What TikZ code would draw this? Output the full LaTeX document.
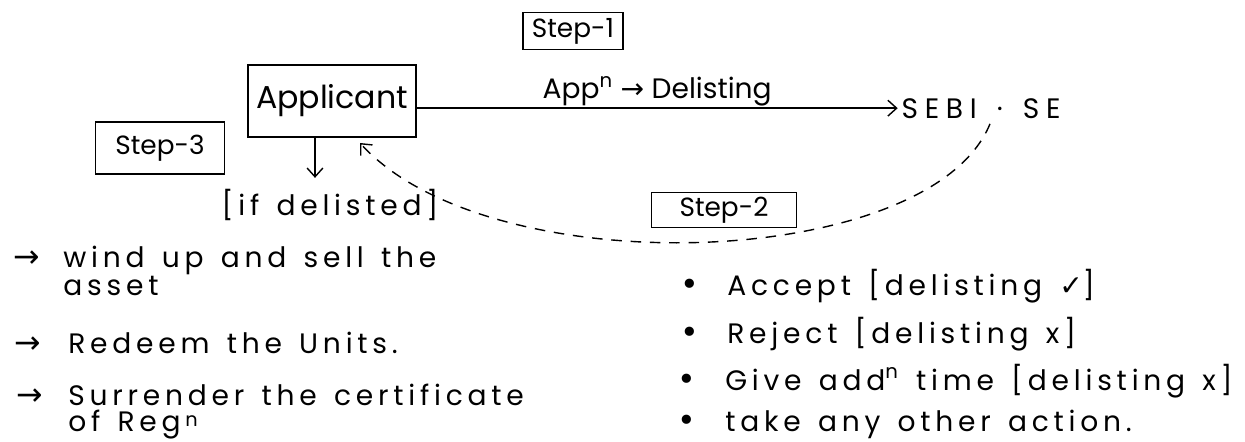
\documentclass[tikz,border=0pt]{standalone}
\usepackage{fontspec}
\usetikzlibrary{arrows.meta}
\setmainfont{Poppins}
\newfontfamily\listfont{Poppins}[LetterSpace=17, WordSpace=1.4]
\newfontfamily\symfont{DejaVu Sans}

\begin{document}
\begin{tikzpicture}[
	>={Straight Barb[length=5pt, width=9pt]},
	stepbox/.style={draw, thick, inner sep=0pt, font=\fontsize{15}{15}\selectfont},
	txt/.style={inner sep=0pt, font=\listfont\fontsize{16}{16}\selectfont},
	sym/.style={inner sep=0pt, font=\symfont\fontsize{18}{18}\selectfont}
]
\useasboundingbox (0,0) rectangle (24.9,8.82);

% step 1
\node[stepbox, minimum width=2cm, minimum height=0.74cm] (stepone) at (11.46,8.2) {Step-1};
\node[draw, thick, inner sep=0pt, minimum width=3.36cm, minimum height=1.44cm, font=\fontsize{18}{18}\selectfont] (app) at (6.64,6.80) {Applicant};
\node[txt, anchor=base] (sebi) at (19.62,6.46) {\addfontfeature{LetterSpace=24}SEBI · SE};
	\draw[thick, ->] (app.east |- sebi.west) -- ([xshift=-2pt]sebi.west) node[midway, above=1pt, inner sep=0pt, font=\fontsize{16}{16}\selectfont] {App\textsuperscript{n} {\symfont →} Delisting};

% step 2
\node[stepbox, minimum width=2.9cm, minimum height=0.7cm] (steptwo) at (14.48,4.62) {Step-2};
\draw[thick, ->, dash pattern=on 6pt off 5pt] ([xshift=0.18cm, yshift=-3pt]sebi.south) .. controls (18.6,3.4) and (9.8,3.1) .. ([xshift=0.56cm, yshift=-3pt]app.south);

\node[sym, anchor=base] (b1) at (13.8,2.92) {•};
\node[txt, anchor=base west] (accept) at (14.54,2.92) {Accept [delisting {\symfont ✓}]};
\node[sym, anchor=base] (b2) at (13.8,1.96) {•};
\node[txt, anchor=base west] (reject) at (14.54,1.96) {Reject [delisting x]};
\node[sym, anchor=base] (b3) at (13.74,1.02) {•};
\node[txt, anchor=base west] (give) at (14.5,1.02) {Give add\textsuperscript{n} time [delisting x]};
\node[sym, anchor=base] (b4) at (13.74,0.2) {•};
\node[txt, anchor=base west] (other) at (14.5,0.2) {take any other action.};

% step 3
\node[stepbox, minimum width=2.58cm, minimum height=1.04cm] (stepthree) at (3.2,5.86) {Step-3};
\node[txt, anchor=base] (ifdel) at (6.6,4.52) {[if delisted]};
	\draw[thick, ->] ([xshift=-0.34cm]app.south) -- ([xshift=-0.3cm, yshift=6pt]ifdel.north);

\node[sym, anchor=base] (a1) at (0.54,3.48) {→};
\node[txt, anchor=base west] (wind) at (1.26,3.48) {wind up and sell the};
\node[txt, anchor=base west] (asset) at (1.26,2.92) {asset};
\node[sym, anchor=base] (a2) at (0.56,1.76) {→};
\node[txt, anchor=base west] (redeem) at (1.36,1.76) {Redeem the Units.};
\node[sym, anchor=base] (a3) at (0.6,0.72) {→};
\node[txt, anchor=base west] (surr) at (1.36,0.72) {Surrender the certificate};
\node[txt, anchor=base west] (regn) at (1.36,0.2) {of Reg\,\raisebox{2.5pt}{\fontsize{11}{11}\selectfont n}};

\end{tikzpicture}
\end{document}
